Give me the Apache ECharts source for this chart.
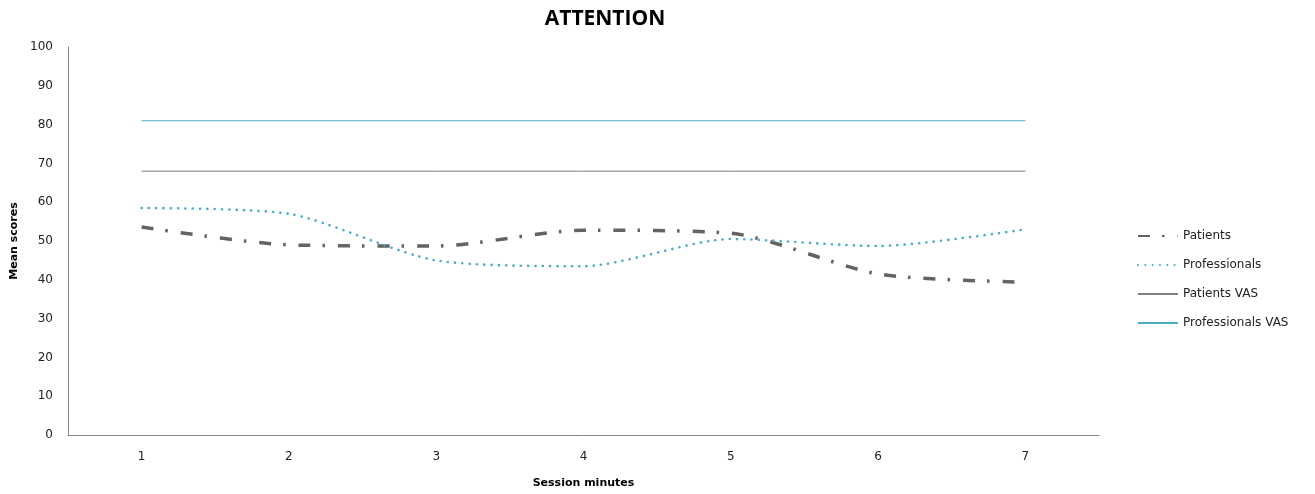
<!DOCTYPE html>
<html><head><meta charset="utf-8">
<script src="https://cdn.jsdelivr.net/npm/echarts@6/dist/echarts.min.js"></script>
<style>html,body{margin:0;padding:0;background:#fff}#c{width:1315px;height:494px}</style>
</head><body><div id="c"></div>
<script>
var categories = ['1','2','3','4','5','6','7'];
var patients = [53.6, 49.0, 48.7, 52.8, 52.0, 41.5, 39.4];
var professionals = [58.5, 57.0, 45.0, 43.5, 50.5, 48.7, 53.0];
var patientsVAS = [68, 68, 68, 68, 68, 68, 68];
var professionalsVAS = [81, 81, 81, 81, 81, 81, 81];
var seriesNames = ['Patients', 'Professionals', 'Patients VAS', 'Professionals VAS'];

var chart = echarts.init(document.getElementById('c'));
var font = 'DejaVu Sans';
chart.setOption({
  animation: false,
  title: { text: 'ATTENTION', left: 600, top: 4, textAlign: 'center',
    textStyle: { fontFamily: 'Open Sans', fontWeight: 'bold', fontSize: 21, color: '#000' } },
  grid: { left: 68, right: 216, top: 47, bottom: 59 },
  legend: {
    orient: 'vertical', left: 1132, top: 225, itemGap: 17, itemWidth: 40, itemHeight: 14,
    itemStyle: { opacity: 0 },
    textStyle: { fontFamily: font, fontSize: 12, color: '#222' },
    data: seriesNames
  },
  xAxis: {
    type: 'category', data: categories, boundaryGap: true,
    name: 'Session minutes', nameLocation: 'middle', nameGap: 43,
    nameTextStyle: { fontFamily: font, fontWeight: 'bold', fontSize: 11, color: '#000' },
    axisLine: { lineStyle: { color: '#868686', width: 1 } },
    axisTick: { show: false },
    axisLabel: { fontFamily: font, fontSize: 12, color: '#222', margin: 16 }
  },
  yAxis: {
    type: 'value', min: 0, max: 100, interval: 10,
    name: 'Mean scores', nameLocation: 'middle', nameGap: 47,
    nameTextStyle: { fontFamily: font, fontWeight: 'bold', fontSize: 11, color: '#000' },
    axisLine: { show: true, lineStyle: { color: '#868686', width: 1 } },
    axisTick: { show: false },
    splitLine: { show: false },
    axisLabel: { fontFamily: font, fontSize: 12, color: '#222', margin: 15 }
  },
  series: [
    { name: seriesNames[0], type: 'line', data: patients, smooth: 0.25, symbol: 'none',
      lineStyle: { color: '#636363', width: 3.5, type: [12, 12, 2.5, 13], cap: 'butt' },
      itemStyle: { color: '#636363' } },
    { name: seriesNames[1], type: 'line', data: professionals, smooth: 0.25, symbol: 'none',
      lineStyle: { color: '#4BACC6', width: 2.6, type: [0.1, 7.2], cap: 'round' },
      itemStyle: { color: '#4BACC6' } },
    { name: seriesNames[2], type: 'line', data: patientsVAS, symbol: 'none',
      lineStyle: { color: '#7F7F7F', width: 1 }, itemStyle: { color: '#7F7F7F' } },
    { name: seriesNames[3], type: 'line', data: professionalsVAS, symbol: 'none',
      lineStyle: { color: '#4BACC6', width: 1 }, itemStyle: { color: '#4BACC6' } }
  ]
});
</script></body></html>
